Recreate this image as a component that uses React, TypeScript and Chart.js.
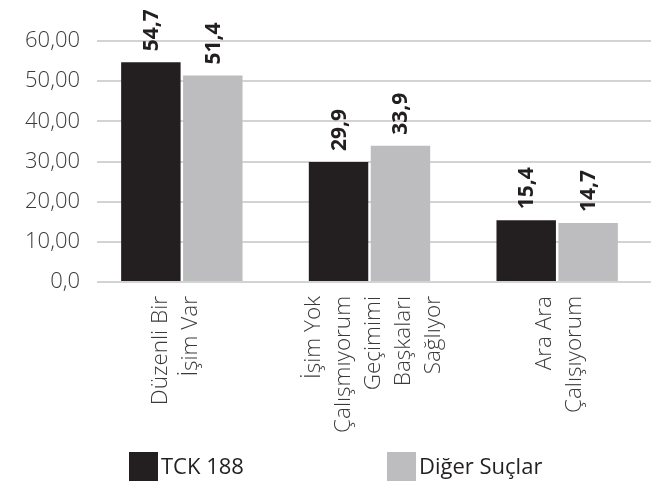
import React, { useEffect, useRef } from 'react';
import { Chart, registerables } from 'chart.js';

Chart.register(...registerables);

const categories: string[][] = [
  ['Düzenli Bir', 'İşim Var'],
  ['İşim Yok', 'Çalışmıyorum', 'Geçimimi', 'Başkaları', 'Sağlıyor'],
  ['Ara Ara', 'Çalışıyorum'],
];
const seriesNames = ['TCK 188', 'Diğer Suçlar'];
const tck188 = [54.7, 29.9, 15.4];
const digerSuclar = [51.4, 33.9, 14.7];
const yTickValues = [0, 10, 20, 30, 40, 50, 60];
const yTickLabels = ['0,0', '10,00', '20,00', '30,00', '40,00', '50,00', '60,00'];
const seriesColors = ['#231f20', '#bdbdbf'];

const W = 651;
const H = 482;
const FONT = '"Open Sans", "Noto Sans", sans-serif';
const TEXT_COLOR = '#3a3a3a';
const GRID_START_X = 97;

const gridTrimPlugin = {
  id: 'gridTrim',
  beforeDatasetsDraw(chart: any) {
    const { ctx, chartArea } = chart;
    ctx.save();
    ctx.fillStyle = '#ffffff';
    ctx.fillRect(chartArea.left - 1, chartArea.top - 3, GRID_START_X - chartArea.left + 1, chartArea.bottom - chartArea.top + 6);
    ctx.restore();
  },
};

const valueLabelPlugin = {
  id: 'valueLabels',
  afterDatasetsDraw(chart: any) {
    const ctx = chart.ctx;
    chart.data.datasets.forEach((ds: any, di: number) => {
      const meta = chart.getDatasetMeta(di);
      meta.data.forEach((bar: any, i: number) => {
        const v = ds.data[i] as number;
        const txt = v.toFixed(1).replace('.', ',');
        ctx.save();
        ctx.translate(bar.x + 1, bar.y - 11);
        ctx.rotate(-Math.PI / 2);
        ctx.font = `bold 21px ${FONT}`;
        ctx.fillStyle = '#231f20';
        ctx.textAlign = 'left';
        ctx.textBaseline = 'middle';
        ctx.fillText(txt, 0, 0);
        ctx.restore();
      });
    });
  },
};

const categoryLabelPlugin = {
  id: 'categoryLabels',
  afterDraw(chart: any) {
    const ctx = chart.ctx;
    const xs = chart.scales.x;
    const lh = 30;
    const endY = chart.chartArea.bottom + 14;
    const shift = [-6, 4, 2];
    categories.forEach((lines, i) => {
      const x = xs.getPixelForValue(i);
      const n = lines.length;
      lines.forEach((line, j) => {
        const cx = x + (j - (n - 1) / 2) * lh + shift[i];
        ctx.save();
        ctx.translate(cx, endY);
        ctx.rotate(-Math.PI / 2);
        ctx.font = `300 22.5px ${FONT}`;
        ctx.fillStyle = TEXT_COLOR;
        ctx.textAlign = 'right';
        ctx.textBaseline = 'middle';
        ctx.fillText(line, 0, 0);
        ctx.restore();
      });
    });
  },
};

const legendPlugin = {
  id: 'customLegend',
  afterDraw(chart: any) {
    const ctx = chart.ctx;
    const startX = [129, 387];
    const box = 29;
    const top = 452;
    chart.data.datasets.forEach((ds: any, i: number) => {
      const x = startX[i];
      ctx.save();
      ctx.fillStyle = ds.backgroundColor;
      ctx.fillRect(x, top, box, box);
      ctx.font = `400 22px ${FONT}`;
      ctx.fillStyle = '#231f20';
      ctx.textAlign = 'left';
      ctx.textBaseline = 'middle';
      ctx.fillText(ds.label, x + box + 3, top + box / 2 + 1);
      ctx.restore();
    });
  },
};

export default function App() {
  const canvasRef = useRef<HTMLCanvasElement | null>(null);

  useEffect(() => {
    if (!canvasRef.current) return;
    const chart = new Chart(canvasRef.current, {
      type: 'bar',
      data: {
        labels: categories.map((c) => c.join(' ')),
        datasets: [
          {
            label: seriesNames[0],
            data: tck188,
            backgroundColor: seriesColors[0],
            barPercentage: 0.96,
            categoryPercentage: 0.66,
          },
          {
            label: seriesNames[1],
            data: digerSuclar,
            backgroundColor: seriesColors[1],
            barPercentage: 0.96,
            categoryPercentage: 0.66,
          },
        ],
      },
      options: {
        responsive: false,
        animation: false,
        layout: { padding: { top: 41, left: 0, right: 0, bottom: 0 } },
        plugins: {
          legend: { display: false },
          tooltip: { enabled: false },
        },
        scales: {
          x: {
            grid: { display: false },
            border: { display: false },
            ticks: { display: false },
            afterFit: (s: any) => {
              s.height = 200;
            },
          },
          y: {
            min: 0,
            max: 60,
            border: { display: false },
            grid: { color: '#d3d3d3', lineWidth: 2, drawTicks: false },
            ticks: {
              stepSize: 10,
              padding: 8,
              color: TEXT_COLOR,
              font: { family: FONT, size: 22, weight: '300' as any },
              callback: (v: any) => {
                const idx = yTickValues.indexOf(Number(v));
                return idx >= 0 ? yTickLabels[idx] : '';
              },
            },
            afterFit: (s: any) => {
              s.width = 88;
            },
          },
        },
      },
      plugins: [gridTrimPlugin, valueLabelPlugin, categoryLabelPlugin, legendPlugin],
    });
    return () => chart.destroy();
  }, []);

  return (
    <div style={{ position: 'absolute', left: 0, top: 0, width: W, height: H, background: '#fff' }}>
      <canvas ref={canvasRef} width={W} height={H} style={{ display: 'block', width: W, height: H }} />
    </div>
  );
}
